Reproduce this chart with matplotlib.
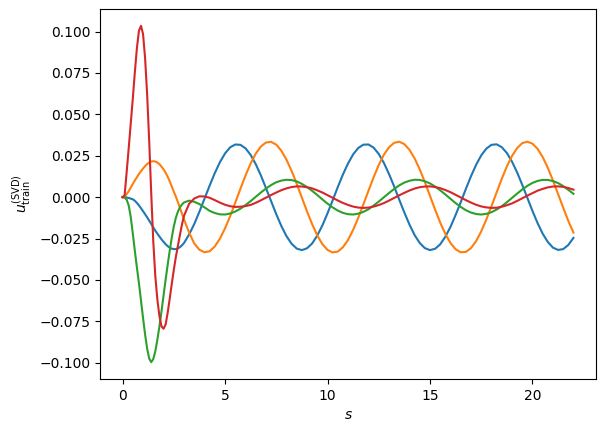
import numpy as np
import matplotlib
matplotlib.use("Agg")
import matplotlib.pyplot as plt

# sampling grid: fine at the start (sharp transient), coarser afterwards
s_early = np.round(np.arange(0.0, 3.0001, 0.1), 2)
s_late = np.round(np.arange(3.25, 22.0001, 0.25), 2)
s = np.concatenate([s_early, s_late])

# values
blue = [
    0.0, -0.0000, -0.0002, -0.0005, -0.0009, -0.0013, -0.0022, -0.0035, -0.0050, -0.0067,
    -0.0085, -0.0103, -0.0122, -0.0142, -0.0162, -0.0183, -0.0203, -0.0221, -0.0238, -0.0255,
    -0.0270, -0.0284, -0.0296, -0.0305, -0.0311, -0.0314, -0.0314, -0.0310, -0.0302, -0.0291,
    -0.0277,
    -0.0225, -0.0162, -0.0088, -0.0009, 0.0070, 0.0145, 0.0211, 0.0264, 0.0301, 0.0318,
    0.0316, 0.0295, 0.0255, 0.0199, 0.0131, 0.0054, -0.0025, -0.0103, -0.0175, -0.0236,
    -0.0282, -0.0311, -0.0320, -0.0309, -0.0280, -0.0232, -0.0171, -0.0098, -0.0020, 0.0060,
    0.0136, 0.0203, 0.0258, 0.0297, 0.0317, 0.0318, 0.0299, 0.0261, 0.0207, 0.0140,
    0.0065, -0.0015, -0.0093, -0.0166, -0.0229, -0.0277, -0.0308, -0.0320, -0.0312, -0.0285,
    -0.0239, -0.0180, -0.0108, -0.0031, 0.0049, 0.0126, 0.0195, 0.0252, 0.0293, 0.0316,
    0.0319, 0.0302, 0.0267, 0.0215, 0.0150, 0.0075, -0.0004, -0.0083, -0.0157, -0.0221,
    -0.0271, -0.0305, -0.0319, -0.0314, -0.0289, -0.0246,
]

orange = [
    0.0, 0.0004, 0.0018, 0.0036, 0.0058, 0.0080, 0.0101, 0.0120, 0.0140, 0.0157,
    0.0173, 0.0187, 0.0200, 0.0209, 0.0215, 0.0217, 0.0215, 0.0209, 0.0199, 0.0184,
    0.0168, 0.0148, 0.0124, 0.0096, 0.0065, 0.0033, 0.0003, -0.0030, -0.0065, -0.0100,
    -0.0135,
    -0.0215, -0.0280, -0.0318, -0.0333, -0.0327, -0.0298, -0.0251, -0.0189, -0.0115, -0.0033,
    0.0050, 0.0131, 0.0203, 0.0263, 0.0306, 0.0330, 0.0334, 0.0317, 0.0280, 0.0226,
    0.0158, 0.0080, -0.0003, -0.0086, -0.0163, -0.0231, -0.0284, -0.0319, -0.0334, -0.0329,
    -0.0303, -0.0259, -0.0198, -0.0125, -0.0044, 0.0039, 0.0120, 0.0194, 0.0256, 0.0301,
    0.0328, 0.0335, 0.0320, 0.0286, 0.0234, 0.0168, 0.0091, 0.0008, -0.0075, -0.0154,
    -0.0222, -0.0277, -0.0315, -0.0333, -0.0331, -0.0308, -0.0266, -0.0207, -0.0135, -0.0055,
    0.0028, 0.0110, 0.0185, 0.0248, 0.0296, 0.0326, 0.0335, 0.0323, 0.0292, 0.0242,
    0.0177, 0.0101, 0.0019, -0.0064, -0.0144, -0.0214,
]

green = [
    0.0, -0.0003, -0.0015, -0.0050, -0.0120, -0.0220, -0.0325, -0.0425, -0.0520, -0.0625,
    -0.0730, -0.0830, -0.0915, -0.0975, -0.0997, -0.0978, -0.0930, -0.0860, -0.0780, -0.0690,
    -0.0595, -0.0500, -0.0410, -0.0325, -0.0245, -0.0178, -0.0125, -0.0088, -0.0062, -0.0044,
    -0.0032,
    -0.0021, -0.0028, -0.0042, -0.0062, -0.0083, -0.0096, -0.0104, -0.0105, -0.0099, -0.0087,
    -0.0070, -0.0048, -0.0024, 0.0002, 0.0028, 0.0052, 0.0073, 0.0090, 0.0100, 0.0105,
    0.0103, 0.0095, 0.0080, 0.0061, 0.0038, 0.0013, -0.0014, -0.0039, -0.0062, -0.0081,
    -0.0095, -0.0103, -0.0105, -0.0100, -0.0089, -0.0073, -0.0051, -0.0027, -0.0001, 0.0025,
    0.0049, 0.0071, 0.0088, 0.0099, 0.0105, 0.0104, 0.0096, 0.0083, 0.0064, 0.0041,
    0.0016, -0.0010, -0.0036, -0.0059, -0.0079, -0.0093, -0.0102, -0.0105, -0.0101, -0.0091,
    -0.0075, -0.0055, -0.0031, -0.0005, 0.0021, 0.0046, 0.0068, 0.0086, 0.0098, 0.0104,
    0.0104, 0.0097, 0.0085, 0.0067, 0.0044, 0.0020,
]

red = [
    0.0, 0.0010, 0.0150, 0.0295, 0.0445, 0.0595, 0.0755, 0.0900, 0.1005, 0.1035,
    0.0985, 0.0840, 0.0620, 0.0340, 0.0020, -0.0270, -0.0480, -0.0620, -0.0720, -0.0780,
    -0.0795, -0.0770, -0.0700, -0.0615, -0.0525, -0.0440, -0.0362, -0.0295, -0.0228, -0.0165,
    -0.0112,
    -0.0040, -0.0008, 0.0005, 0.0004, -0.0004, -0.0018, -0.0033, -0.0046, -0.0055, -0.0059,
    -0.0058, -0.0054, -0.0047, -0.0034, -0.0019, -0.0003, 0.0013, 0.0028, 0.0042, 0.0053,
    0.0061, 0.0065, 0.0064, 0.0060, 0.0053, 0.0041, 0.0028, 0.0012, -0.0004, -0.0020,
    -0.0035, -0.0047, -0.0057, -0.0063, -0.0065, -0.0063, -0.0057, -0.0048, -0.0036, -0.0021,
    -0.0005, 0.0011, 0.0026, 0.0040, 0.0052, 0.0060, 0.0064, 0.0065, 0.0061, 0.0054,
    0.0043, 0.0030, 0.0014, -0.0002, -0.0018, -0.0033, -0.0046, -0.0056, -0.0062, -0.0065,
    -0.0064, -0.0058, -0.0049, -0.0038, -0.0023, -0.0007, 0.0009, 0.0024, 0.0039, 0.0050,
    0.0059, 0.0064, 0.0065, 0.0062, 0.0055, 0.0045,
]

series = [blue, orange, green, red]

fig = plt.figure(figsize=(6.05, 4.32), dpi=100)
ax = fig.add_axes([0.1653, 0.1227, 0.8198, 0.8565])

for vals in series:
    ax.plot(s, vals)

ax.set_xlabel(r"$s$")
ax.set_ylabel(r"$u_{\mathrm{train}}^{(\mathrm{SVD})}$")

fig.savefig("out.png", dpi=100)
